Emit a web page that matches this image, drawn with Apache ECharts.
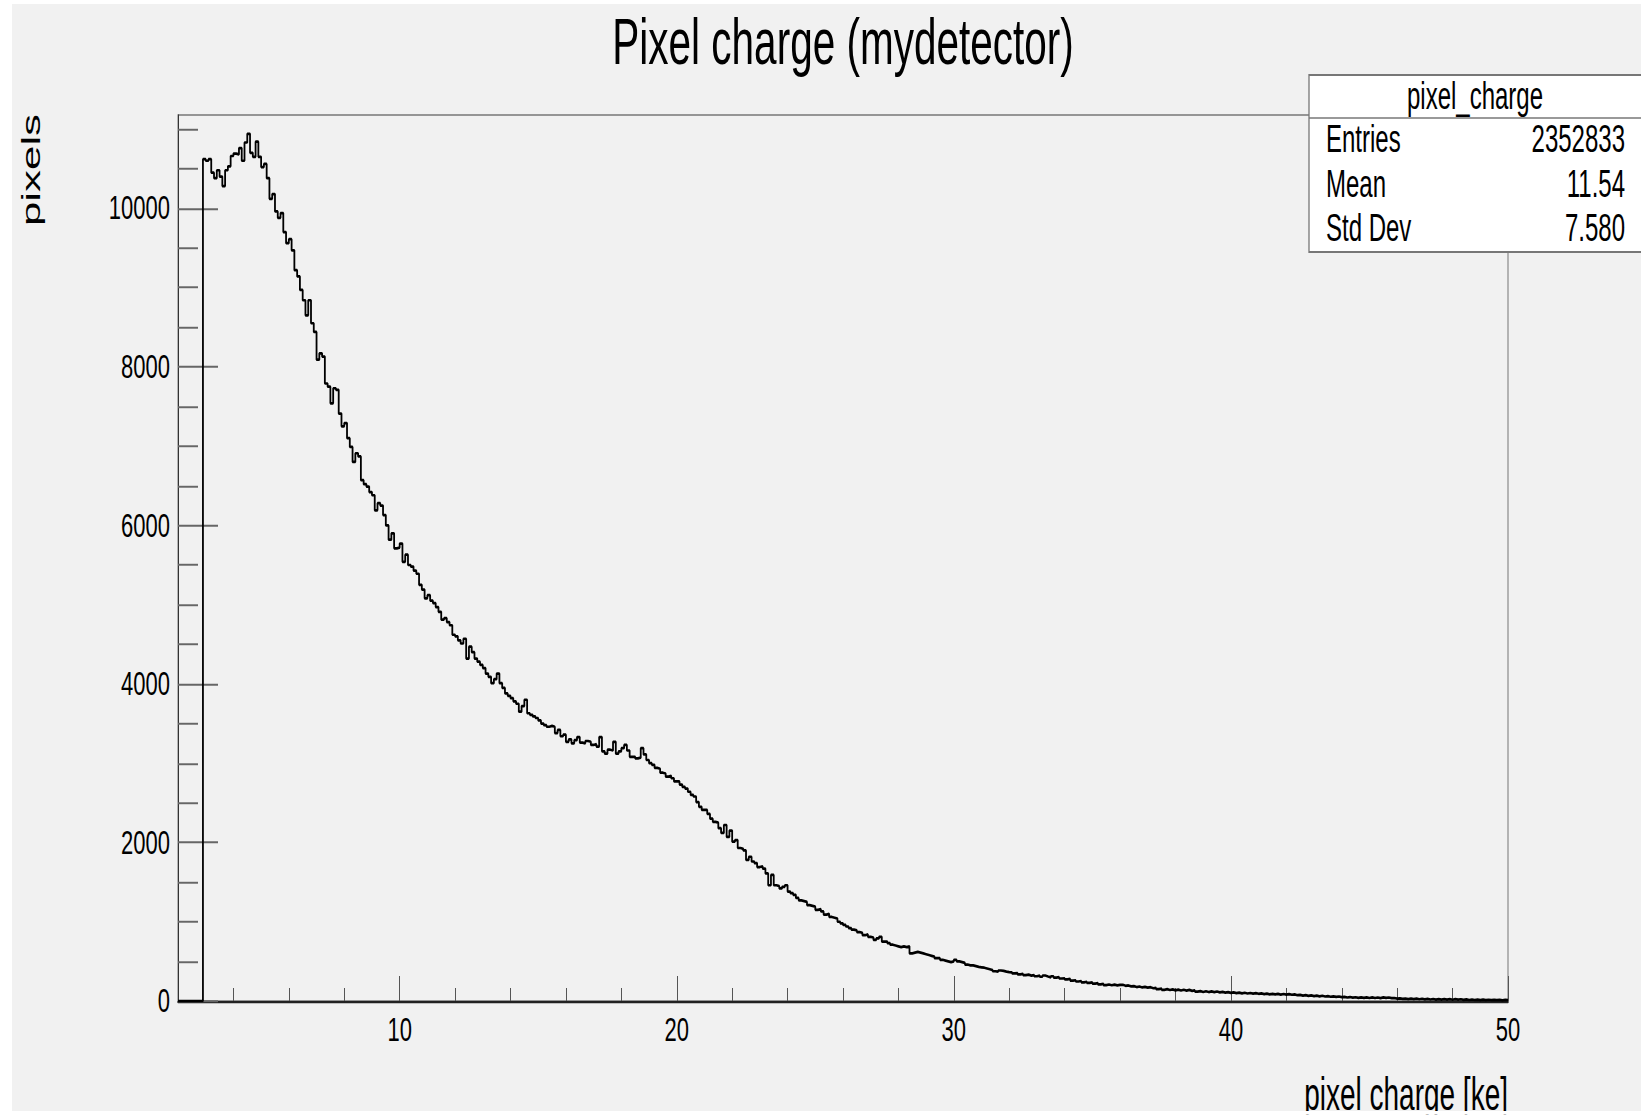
<!DOCTYPE html>
<html><head><meta charset="utf-8">
<script src="https://cdn.jsdelivr.net/npm/echarts@6/dist/echarts.min.js"></script>
<style>
html,body{margin:0;padding:0;background:#fff;width:1641px;height:1115px;overflow:hidden}
#c{width:1641px;transform-origin:0 0}
</style>
</head><body><div id="c"></div>
<script>
// ---- data ----
const titleText = 'Pixel charge (mydetector)';
const xTitle = 'pixel charge [ke]';
const yTitle = 'pixels';
const xRange = [2, 50];
const yMax = 11177;
const binLow = 2.0;
const binWidth = 0.1;
const counts = [
0,0,0,0,0,0,0,0,0,10620,
10600,10620,10450,10380,10480,10400,10280,10480,10530,10660,
10690,10680,10760,10600,10830,10940,10700,10650,10840,10650,
10520,10560,10380,10120,10180,9960,9880,9940,9700,9560,
9610,9470,9220,9140,8970,8840,8650,8840,8550,8440,
8090,8170,8130,7790,7750,7540,7730,7710,7410,7250,
7290,7100,6990,6800,6910,6870,6570,6520,6490,6420,
6380,6190,6280,6250,6130,6000,5820,5900,5710,5720,
5770,5540,5630,5500,5480,5430,5390,5250,5190,5080,
5120,5050,5020,4970,4910,4810,4830,4780,4740,4620,
4600,4550,4510,4570,4320,4470,4400,4320,4280,4240,
4200,4130,4090,4010,4060,4130,4010,3950,3880,3850,
3820,3780,3750,3650,3720,3800,3630,3610,3590,3570,
3540,3500,3480,3460,3470,3460,3380,3420,3340,3360,
3270,3300,3250,3290,3330,3260,3250,3280,3270,3230,
3240,3210,3330,3150,3120,3170,3160,3270,3120,3150,
3190,3230,3160,3080,3080,3060,3070,3190,3110,3040,
3000,2980,2940,2930,2880,2870,2830,2840,2810,2770,
2770,2730,2700,2680,2640,2600,2580,2510,2450,2410,
2410,2360,2300,2260,2250,2180,2120,2220,2070,2150,
2010,2030,1930,1920,1900,1780,1820,1760,1740,1690,
1700,1670,1610,1460,1590,1460,1450,1420,1440,1460,
1380,1360,1340,1300,1270,1260,1250,1210,1200,1190,
1150,1160,1130,1090,1100,1060,1050,1040,1000,980,
960,940,920,900,890,870,860,830,840,810,
800,770,790,810,750,750,730,710,700,690,
680,690,680,690,600,610,620,610,600,590,
580,570,560,540,540,520,510,500,490,500,
520,500,490,480,460,450,450,440,430,425,
420,410,400,390,375,370,385,380,370,365,
362,348,352,335,342,326,333,320,327,312,
321,306,322,309,298,312,296,301,284,286,
272,279,258,262,246,252,236,243,228,234,
219,226,209,217,201,208,199,206,197,204,
205,192,196,184,188,176,183,171,178,169,
174,161,165,149,155,141,149,139,146,134,
144,133,142,131,140,127,133,119,125,114,
123,113,121,111,120,109,116,106,112,103,
109,99,106,97,104,95,101,94,99,91,
96,87,93,84,90,83,89,81,88,80,
87,79,84,73,78,68,74,64,70,62,
68,59,66,57,62,54,59,51,57,48,
53,44,50,42,47,40,46,39,45,38,
46,38,44,37,45,39,44,36,38,30,
34,26,31,24,30,23,29,22,28,21,
26,19,25,18,24,17,24,17,23,16,
24,17,22,14,20,13,19,13,18,12,
17,11,16,10,15,10,14,9,14,10
];
const xMajorTicks = [10, 20, 30, 40, 50];
const xMinorTicks = [4,6,8,12,14,16,18,22,24,26,28,32,34,36,38,42,44,46,48];
const yMajorTicks = [0, 2000, 4000, 6000, 8000, 10000];
const yMinorTicks = [500,1000,1500,2500,3000,3500,4500,5000,5500,6500,7000,7500,8500,9000,9500,10500,11000];
const statsTitle = 'pixel_charge';
const statsLabels = ['Entries', 'Mean', 'Std Dev'];
const statsValues = ['2352833', '11.54', '7.580'];

// ---- layout: the reference is vertically stretched; draw at H/K and stretch by K ----
const W = 1641, H = 1115, K = 1.5;
const Y = v => v / K;
const el = document.getElementById('c');
el.style.height = (H / K) + 'px';
el.style.transform = 'scaleY(' + K + ')';

const histData = counts.map((v, i) => [+(binLow + i * binWidth).toFixed(2), v]);
histData.push([+(binLow + counts.length * binWidth).toFixed(2), counts[counts.length - 1]]);

const FONT = '"Liberation Sans", Arial, sans-serif';

function txt(text, x, y, opts) {
  return Object.assign({
    type: 'text', x: x, y: y, silent: true, z: 50,
    style: Object.assign({
      text: text, fill: '#000', fontFamily: FONT, fontSize: 24,
      align: 'left', textAlign: 'left', verticalAlign: 'middle', textVerticalAlign: 'middle'
    }, opts.style || {})
  }, opts.el || {});
}

const statsRowsY = [139, 184, 228];
const SS = 1.09;
const graphics = [
  { type: 'rect', z: -100, silent: true, shape: { x: 12, y: Y(4), width: W - 12, height: Y(1107) }, style: { fill: '#f1f1f1' } },
  txt(titleText, 843, Y(41), { style: { fontSize: 40.5, align: 'center', textAlign: 'center' }, el: { scaleY: 1.06 } }),
  { type: 'rect', z: 40, silent: true, shape: { x: 1309, y: Y(75), width: 340, height: Y(177) }, style: { fill: '#fff', stroke: '#777', lineWidth: 1.3 } },
  { type: 'line', z: 41, silent: true, shape: { x1: 1309, y1: Y(118), x2: W, y2: Y(118) }, style: { stroke: '#777', lineWidth: 1 } },
  txt(statsTitle, 1475, Y(96), { el: { scaleY: SS }, style: { align: 'center', textAlign: 'center' } }),
  txt(yTitle, 32, Y(170), { style: { fontSize: 25, align: 'center', textAlign: 'center' }, el: { rotation: Math.PI / 2, scaleX: 1.17 } }),
  txt(xTitle, 1508, Y(1094), { style: { fontSize: 28, align: 'right', textAlign: 'right' }, el: { scaleY: SS } }),
  { type: 'rect', z: 100, silent: true, shape: { x: 0, y: Y(1111), width: W, height: Y(4) + 1 }, style: { fill: '#fff' } }
];
statsLabels.forEach((l, i) => {
  graphics.push(txt(l, 1326, Y(statsRowsY[i]), { el: { scaleY: SS } }));
  graphics.push(txt(statsValues[i], 1625, Y(statsRowsY[i]), { style: { align: 'right', textAlign: 'right' }, el: { scaleY: SS } }));
});

const plain = v => String(v);
const chart = echarts.init(el, null, { renderer: 'svg', width: W, height: H / K });
chart.setOption({
  animation: false,
  backgroundColor: '#ffffff',
  grid: { left: 178, top: Y(115), width: 1330, height: Y(886), show: true, borderColor: '#777', borderWidth: 1, backgroundColor: 'transparent' },
  xAxis: [
    {
      type: 'value', min: xRange[0], max: xRange[1], position: 'bottom',
      axisLine: { show: true, onZero: false, lineStyle: { color: '#222', width: 1.5 } },
      axisTick: { show: true, inside: true, length: Y(25), customValues: xMajorTicks, lineStyle: { color: '#555', width: 1 } },
      axisLabel: { show: true, customValues: xMajorTicks, formatter: plain, margin: Y(12), fontFamily: FONT, fontSize: 22, color: '#000' },
      splitLine: { show: false }
    },
    {
      type: 'value', min: xRange[0], max: xRange[1], position: 'bottom',
      axisLine: { show: false },
      axisTick: { show: true, inside: true, length: Y(13), customValues: xMinorTicks, lineStyle: { color: '#555', width: 1 } },
      axisLabel: { show: false },
      splitLine: { show: false }
    }
  ],
  yAxis: [
    {
      type: 'value', min: 0, max: yMax, position: 'left',
      axisLine: { show: true, onZero: false, lineStyle: { color: '#333', width: 1 } },
      axisTick: { show: true, inside: true, length: 40, customValues: yMajorTicks, lineStyle: { color: '#666', width: 1.3 } },
      axisLabel: { show: true, customValues: yMajorTicks, formatter: plain, margin: 8, fontFamily: FONT, fontSize: 22, color: '#000' },
      splitLine: { show: false }
    },
    {
      type: 'value', min: 0, max: yMax, position: 'left', offset: 0,
      axisLine: { show: false },
      axisTick: { show: true, inside: true, length: 20, customValues: yMinorTicks, lineStyle: { color: '#666', width: 1.3 } },
      axisLabel: { show: false },
      splitLine: { show: false }
    }
  ],
  series: [{
    type: 'line', name: statsTitle, xAxisIndex: 0, yAxisIndex: 0,
    data: histData, step: 'end', showSymbol: false, symbol: 'none',
    lineStyle: { color: '#000', width: 1.8 }, clip: true, z: 3
  }],
  graphic: { elements: graphics }
});
</script>
</body></html>
